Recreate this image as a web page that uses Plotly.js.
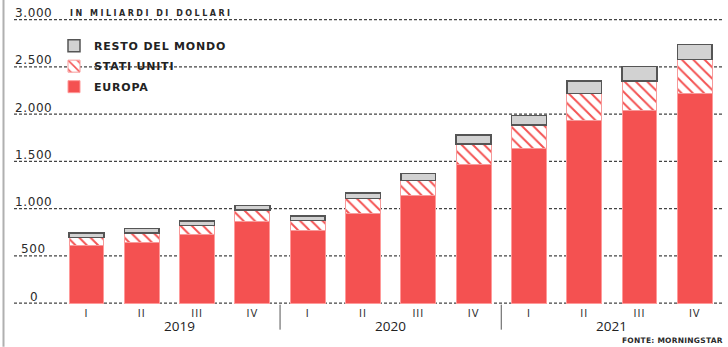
<!DOCTYPE html>
<html>
<head>
<meta charset="utf-8">
<script src="https://cdn.plot.ly/plotly-3.0.1.min.js"></script>
<style>
html,body{margin:0;padding:0;background:#fff;}
#chart{width:728px;height:347px;}
</style>
</head>
<body>
<div id="chart"></div>
<script>
// ---- data ----
const quarters = ["I","II","III","IV","I","II","III","IV","I","II","III","IV"];
const years = ["2019","2019","2019","2019","2020","2020","2020","2020","2021","2021","2021","2021"];
const europa = [610, 642, 723, 864, 769, 953, 1137, 1471, 1636, 1931, 2041, 2224];
const statiUniti = [85, 99, 99, 124, 106, 152, 159, 216, 250, 290, 310, 352];
const restoDelMondo = [46, 49, 47, 46, 50, 60, 74, 93, 98, 130, 155, 160];
const yTickValues = [0, 500, 1000, 1500, 2000, 2500, 3000];
const yTickLabels = ["0", "500", "1.000", "1.500", "2.000", "2.500", "3.000"];
const seriesNames = ["EUROPA", "STATI UNITI", "RESTO DEL MONDO"];
const unitLabel = "IN MILIARDI DI DOLLARI";
const sourceLabel = "FONTE: MORNINGSTAR";

// ---- layout constants ----
const W = 728, H = 347;
const yMin = -30, yMax = 3060;
const pxPerUnit = 283.5 / 3000;
const zeroPx = 303.5;
const mL = 14, mR = 6;
const mB = H - (zeroPx + (0 - yMin) * pxPerUnit);
const mT = zeroPx - yMax * pxPerUnit;
const plotW = W - mL - mR, plotH = H - mT - mB;
const RED = "#f45151";
const idx = quarters.map((q, i) => i);
const sp = (t) => '<span style="letter-spacing:' + t[1] + 'px">' + t[0] + '</span>';
const px2paperX = (px) => (px - mL) / plotW;
const px2paperY = (py) => (H - mB - py) / plotH;

const traces = [
  {
    type: "bar", x: idx, y: europa, name: sp([seriesNames[0], 0.8]),
    legendgroup: "a", legendrank: 3,
    marker: { color: RED, line: { color: "#ff9a9a", width: 1 } },
    hoverinfo: "y"
  },
  {
    type: "bar", x: idx, y: statiUniti, name: sp([seriesNames[1], 0.8]),
    legendgroup: "b", legendrank: 2,
    marker: {
      color: "#ffffff",
      line: { color: "#f79a9a", width: 1 },
      pattern: { shape: "\\", fgcolor: RED, bgcolor: "#ffffff", size: 8, solidity: 0.24 }
    },
    hoverinfo: "y"
  },
  {
    type: "bar", x: idx, y: restoDelMondo, name: sp([seriesNames[2], 0.8]),
    legendgroup: "c", legendrank: 1,
    marker: { color: "#d2d2d2", line: { color: "#555555", width: 1.5 } },
    hoverinfo: "y"
  }
];

const annotations = [];
const shapes = [];
// gridlines + y tick labels drawn above their gridlines
yTickValues.forEach((v, i) => {
  shapes.push({
    type: "line", layer: "below", xref: "paper", yref: "y",
    x0: 0, x1: 1, y0: v, y1: v,
    line: { color: "#444444", width: 1.2, dash: "3px,2px" }
  });
  annotations.push({
    xref: "paper", yref: "y", x: px2paperX(33.5), y: v,
    text: sp([yTickLabels[i], 0.6]), showarrow: false,
    xanchor: "center", yanchor: "middle", yshift: 6.5,
    font: { family: "DejaVu Sans", size: 12, color: "#2a2a2a" }
  });
});
// year group labels
const uniqYears = [...new Set(years)];
const yearShift = [10, 0, 0];
uniqYears.forEach((yr, k) => {
  const members = idx.filter(i => years[i] === yr);
  const mid = (members[0] + members[members.length - 1]) / 2;
  annotations.push({
    xref: "x", yref: "paper", x: mid, y: px2paperY(326.5),
    text: yr, showarrow: false, xanchor: "center", yanchor: "middle",
    xshift: yearShift[k],
    font: { family: "Open Sans", size: 13.5, color: "#222" }
  });
});
annotations.push({
  xref: "paper", yref: "paper", x: px2paperX(68), y: px2paperY(13.5),
  text: sp([unitLabel, 2.5]), showarrow: false, xanchor: "left", yanchor: "middle",
  font: { family: "DejaVu Sans", size: 8, weight: 700, color: "#2a2a2a" }
});
annotations.push({
  xref: "paper", yref: "paper", x: px2paperX(620), y: px2paperY(340.5),
  text: sp([sourceLabel, 0.25]), showarrow: false, xanchor: "left", yanchor: "middle",
  font: { family: "DejaVu Sans", size: 7.5, weight: 700, color: "#2a2a2a" }
});

// dividers between years
uniqYears.slice(1).forEach(yr => {
  const first = years.indexOf(yr);
  shapes.push({
    type: "line", xref: "x", yref: "paper",
    x0: first - 0.5, x1: first - 0.5, y0: px2paperY(305), y1: px2paperY(330),
    line: { color: "#555", width: 1 }
  });
});
// left border line
shapes.push({
  type: "line", xref: "paper", yref: "paper",
  x0: px2paperX(3.5), x1: px2paperX(3.5), y0: px2paperY(347), y1: px2paperY(0),
  line: { color: "#b0b0b0", width: 2 }
});

// x range so that bar 0 center sits at ~86.5px and spacing is ~55.3px
const step = 55.3;
const x0 = -(86.5 - mL) / step;
const x1 = x0 + plotW / step;

const layout = {
  width: W, height: H,
  margin: { l: mL, r: mR, t: mT, b: mB, pad: 0 },
  paper_bgcolor: "#ffffff", plot_bgcolor: "rgba(0,0,0,0)",
  barmode: "stack", bargap: 0.37,
  showlegend: true,
  legend: {
    x: px2paperX(54), xanchor: "left", y: px2paperY(31.5), yanchor: "top",
    traceorder: "grouped", tracegroupgap: 1.5,
    bgcolor: "rgba(0,0,0,0)", borderwidth: 0,
    font: { family: "DejaVu Sans", size: 11, weight: 700, color: "#222" }
  },
  xaxis: {
    type: "linear", range: [x0, x1],
    tickmode: "array", tickvals: idx, ticktext: quarters.map(q => sp([q, 1])),
    ticks: "", showgrid: false, zeroline: false, showline: false,
    ticklabelstandoff: 0,
    tickfont: { family: "DejaVu Sans", size: 10, color: "#333" },
    fixedrange: true
  },
  yaxis: {
    range: [yMin, yMax], showticklabels: false, ticks: "",
    showgrid: false, zeroline: false, showline: false, fixedrange: true
  },
  annotations: annotations,
  shapes: shapes
};

Plotly.newPlot("chart", traces, layout, { displayModeBar: false, staticPlot: true });
</script>
</body>
</html>
